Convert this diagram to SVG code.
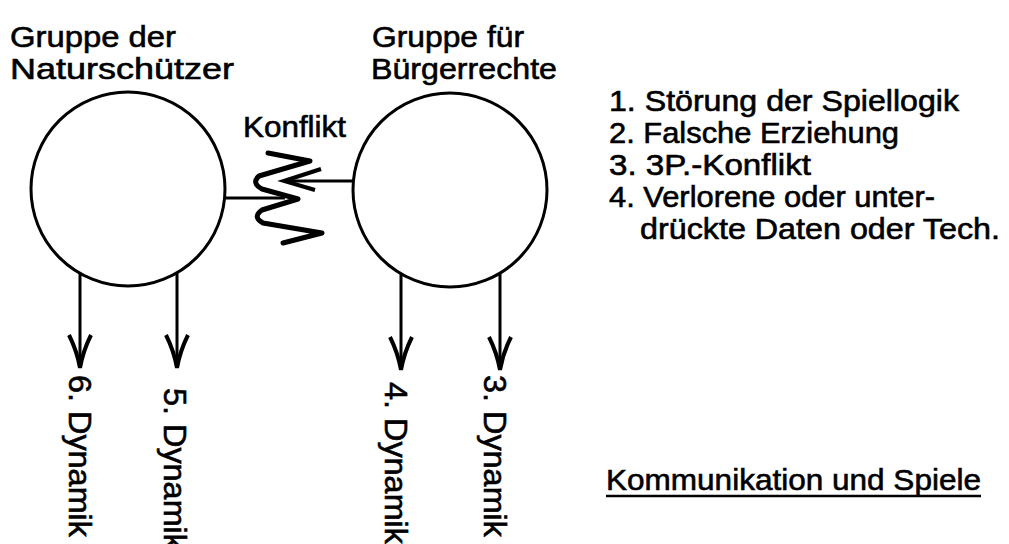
<svg xmlns="http://www.w3.org/2000/svg" width="1009" height="544" viewBox="0 0 1009 544">
<style>
text{font-family:"Liberation Sans",Arial,sans-serif;font-size:30px;fill:#000;stroke:#000;stroke-width:0.6}
.s{font-size:29px}
.v{font-size:31px}
.c{fill:none;stroke:#000;stroke-width:3}
.l{fill:none;stroke:#000;stroke-width:3}
.z{fill:none;stroke:#000;stroke-width:5;stroke-linejoin:round;stroke-linecap:round}
</style>
<defs>
<path id="ah" d="M-11,-33 Q-3,-17 0,0 Q3,-17 11,-33" fill="none" stroke="#000" stroke-width="4" stroke-linejoin="miter"/>
</defs>
<g id="natur">
<circle class="c" cx="128" cy="189" r="97"/>
<text x="10" y="47" textLength="166" lengthAdjust="spacingAndGlyphs">Gruppe der</text>
<text x="10" y="79" textLength="224" lengthAdjust="spacingAndGlyphs">Naturschützer</text>
</g>
<g id="buerger">
<circle class="c" cx="450" cy="190" r="97"/>
<text x="372" y="47" textLength="152" lengthAdjust="spacingAndGlyphs">Gruppe für</text>
<text x="371" y="79" textLength="186" lengthAdjust="spacingAndGlyphs">Bürgerrechte</text>
</g>
<g id="liste">
<text class="s" x="609" y="111" textLength="350" lengthAdjust="spacingAndGlyphs">1. Störung der Spiellogik</text>
<text class="s" x="609" y="143" textLength="290" lengthAdjust="spacingAndGlyphs">2. Falsche Erziehung</text>
<text class="s" x="609" y="175" textLength="202" lengthAdjust="spacingAndGlyphs">3. 3P.-Konflikt</text>
<text class="s" x="609" y="207" textLength="326" lengthAdjust="spacingAndGlyphs">4. Verlorene oder unter-</text>
<text class="s" x="640" y="239" textLength="360" lengthAdjust="spacingAndGlyphs">drückte Daten oder Tech.</text>
</g>
<g id="titel">
<text x="606" y="490" textLength="375" lengthAdjust="spacingAndGlyphs">Kommunikation und Spiele</text>
<line x1="606" y1="496" x2="981" y2="496" stroke="#000" stroke-width="2.5"/>
</g>
<g id="konflikt">
<text x="243" y="137" textLength="103" lengthAdjust="spacingAndGlyphs">Konflikt</text>
<path class="z" d="M268,153 L310,161 L259,176 Q251,183 262,189 L298,199 L262,210 Q252,217 263,223 L322,233 L283,243"/>
</g>
<g id="connectors">
<line class="l" x1="225" y1="198" x2="285" y2="198"/>
<line class="l" x1="353" y1="181" x2="285" y2="181"/>
<path d="M321,169 L284,181 L315,190" fill="none" stroke="#000" stroke-width="4"/>
<line class="l" x1="80" y1="273" x2="80" y2="366"/>
<use href="#ah" x="80" y="368"/>
<line class="l" x1="177" y1="273" x2="177" y2="366"/>
<use href="#ah" x="177" y="368"/>
<line class="l" x1="401" y1="274" x2="401" y2="368"/>
<use href="#ah" x="401" y="370"/>
<line class="l" x1="500" y1="273" x2="500" y2="368"/>
<use href="#ah" x="500" y="370"/>
</g>
<g id="dynamik">
<text class="v" transform="translate(69,375) rotate(90)" textLength="162" lengthAdjust="spacingAndGlyphs">6. Dynamik</text>
<text class="v" transform="translate(164,388) rotate(90)" textLength="162" lengthAdjust="spacingAndGlyphs">5. Dynamik</text>
<text class="v" transform="translate(385,382) rotate(90)" textLength="162" lengthAdjust="spacingAndGlyphs">4. Dynamik</text>
<text class="v" transform="translate(484,375) rotate(90)" textLength="162" lengthAdjust="spacingAndGlyphs">3. Dynamik</text>
</g>
</svg>
